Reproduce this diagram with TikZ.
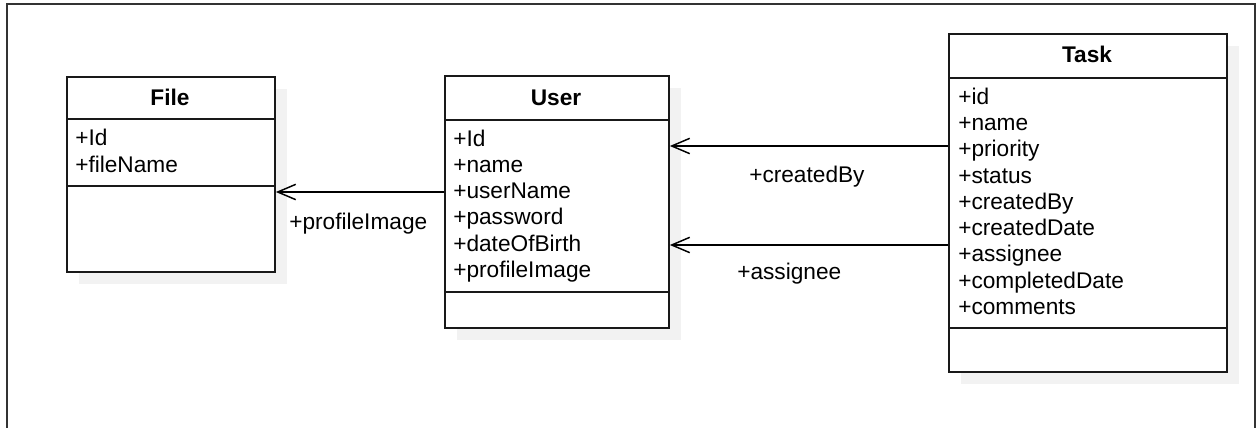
\documentclass[tikz,border=0pt]{standalone}
\usepackage{fontspec}
\setmainfont{Liberation Sans}
\usetikzlibrary{arrows.meta,shadows}

\tikzset{
  classbox/.style={draw=black!90, line width=1.4pt, fill=white, anchor=north west, inner sep=0pt,
    drop shadow={shadow xshift=9pt, shadow yshift=-9pt, fill=black!5, opacity=1}},
  sepline/.style={draw=black!90, line width=1.4pt},
  classtitle/.style={anchor=base, inner sep=0pt, font=\fontsize{17}{20}\selectfont\bfseries},
  attr/.style={anchor=base west, inner sep=0pt, font=\fontsize{17}{20}\selectfont},
  rolelabel/.style={anchor=base west, inner sep=0pt, font=\fontsize{17}{20}\selectfont},
  assoc/.style={line width=1.1pt, -{Straight Barb[length=13.5pt, width=11.5pt, line width=1.1pt]}}
}

\begin{document}
\begin{tikzpicture}[x=0.75pt, y=-0.75pt]
  \useasboundingbox (0,0) rectangle (1257,428);
  % outer frame
  \draw[line width=1.1pt, black!80] (7,430) -- (7,4) -- (1255,4) -- (1255,430);

  % class boxes
  \node[classbox, minimum width=208*0.75pt, minimum height=195*0.75pt] (file) at (66,76) {};
  \node[classbox, minimum width=224*0.75pt, minimum height=252*0.75pt] (user) at (444,75) {};
  \node[classbox, minimum width=278*0.75pt, minimum height=338*0.75pt] (task) at (948,33) {};

  % compartments
  \draw[sepline] (file.west |- 0,119) -- (file.east |- 0,119);
  \draw[sepline] (file.west |- 0,186) -- (file.east |- 0,186);
  \draw[sepline] (user.west |- 0,120) -- (user.east |- 0,120);
  \draw[sepline] (user.west |- 0,292) -- (user.east |- 0,292);
  \draw[sepline] (task.west |- 0,78) -- (task.east |- 0,78);
  \draw[sepline] (task.west |- 0,328) -- (task.east |- 0,328);

  % titles
  \node[classtitle] (file-title) at (170,106) {File};
  \node[classtitle] (user-title) at (556,105) {User};
  \node[classtitle] (task-title) at (1087,63) {Task};

  % attributes
  \foreach \a [count=\i] in {+Id,+fileName}
    \node[attr, name=file-\i] at (75,120+26*\i) {\a};
  \foreach \a [count=\i] in {+Id,+name,+userName,+password,+dateOfBirth,+profileImage}
    \node[attr, name=user-\i] at (453,120+26.2*\i) {\a};
  \foreach \a [count=\i] in {+id,+name,+priority,+status,+createdBy,+createdDate,+assignee,+completedDate,+comments}
    \node[attr, name=task-\i] at (958,78+26.25*\i) {\a};

  % associations
  \coordinate (profilerow) at (0,192);
  \coordinate (createdrow) at (0,146);
  \coordinate (assigneerow) at (0,245);
  \draw[assoc] (user.west |- profilerow) -- (file.east |- profilerow);
  \draw[assoc] (task.west |- createdrow) -- (user.east |- createdrow);
  \draw[assoc] (task.west |- assigneerow) -- (user.east |- assigneerow);

  % role names
  \node[rolelabel] (profile-label) at (289,229) {+profileImage};
  \node[rolelabel] (created-label) at (749,182) {+createdBy};
  \node[rolelabel] (assignee-label) at (737,279) {+assignee};
\end{tikzpicture}
\end{document}
